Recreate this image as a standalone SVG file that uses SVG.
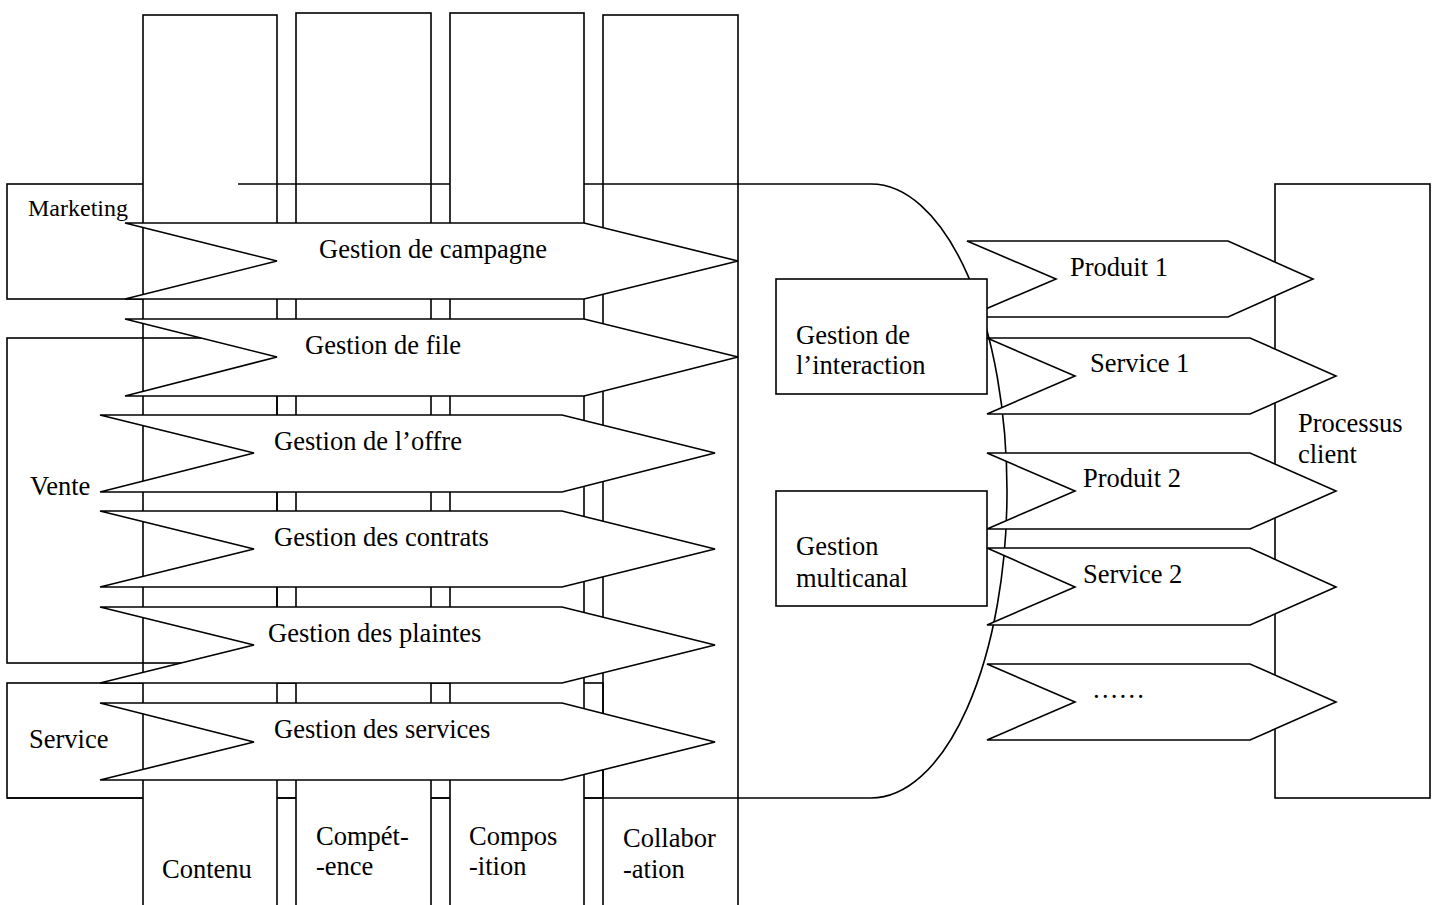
<svg xmlns="http://www.w3.org/2000/svg" width="1434" height="905" viewBox="0 0 1434 905">
<style>
.s{fill:none;stroke:#000;stroke-width:1.6}
.w{fill:#fff;stroke:#000;stroke-width:1.6}
text{font-family:"Liberation Serif","Times New Roman",serif;font-size:26.5px;fill:#000}
.sm{font-size:24px}
</style>
<rect width="1434" height="905" fill="#fff"/>
<g id="connectors">
<rect id="col4-bg" class="w" x="603" y="15" width="135" height="900"/>
<path class="s" d="M871 184 A136 307 0 0 1 871 798 H7"/>
</g>
<g id="marketing"><rect class="s" x="7" y="184" width="200" height="115"/></g>
<g id="service-box"><rect class="s" x="7" y="683" width="596" height="115"/></g>
<g id="col-contenu"><rect class="w" x="143" y="15" width="134" height="900"/><text x="162" y="878">Contenu</text></g>
<g id="col-competence"><rect class="w" x="296" y="13" width="135" height="900"/><text x="316" y="845">Compét-</text><text x="316" y="875">-ence</text></g>
<g id="topline"><path class="s" d="M238 184 H871"/></g>
<g id="col-composition"><rect class="w" x="450" y="13" width="134" height="900"/><text x="469" y="845">Compos</text><text x="469" y="875">-ition</text></g>
<g id="col-collaboration"><text x="623" y="847">Collabor</text><text x="623" y="878">-ation</text></g>
<g id="vente"><rect class="s" x="7" y="338" width="270" height="325"/></g>
<g id="labels-left"><text class="sm" x="28" y="216">Marketing</text><text x="30" y="495">Vente</text><text x="29" y="748">Service</text></g>
<g id="a-campagne"><polygon class="w" points="125,223 584,223 738,261 584,299 125,299 277,261"/><text x="319" y="258">Gestion de campagne</text></g>
<g id="a-file"><polygon class="w" points="125,319 584,319 738,357 584,396 125,396 277,357"/><text x="305" y="354">Gestion de file</text></g>
<g id="a-offre"><polygon class="w" points="100,415 562,415 715,453 562,492 100,492 254,453"/><text x="274" y="450">Gestion de l’offre</text></g>
<g id="a-contrats"><polygon class="w" points="100,511 562,511 715,549 562,587 100,587 254,549"/><text x="274" y="546">Gestion des contrats</text></g>
<g id="a-plaintes"><polygon class="w" points="100,607 562,607 715,645 562,683 100,683 254,645"/><text x="268" y="642">Gestion des plaintes</text></g>
<g id="a-services"><polygon class="w" points="100,703 562,703 715,742 562,780 100,780 254,742"/><text x="274" y="738">Gestion des services</text></g>
<g id="processus"><rect class="w" x="1275" y="184" width="155" height="614"/><text x="1298" y="432">Processus</text><text x="1298" y="463">client</text></g>
<g id="produit1"><polygon class="w" points="967,241 1228,241 1313,279 1228,317 967,317 1056,279"/><text x="1070" y="276">Produit 1</text></g>
<g id="interaction"><rect class="w" x="776" y="279" width="211" height="115"/><text x="796" y="344">Gestion de</text><text x="796" y="374">l’interaction</text></g>
<g id="service1"><polygon class="w" points="987,338 1250,338 1336,376 1250,414 987,414 1075,376"/><text x="1090" y="372">Service 1</text></g>
<g id="produit2"><polygon class="w" points="987,453 1250,453 1336,491 1250,529 987,529 1075,491"/><text x="1083" y="487">Produit 2</text></g>
<g id="service2"><polygon class="w" points="987,548 1250,548 1336,587 1250,625 987,625 1075,587"/><text x="1083" y="583">Service 2</text></g>
<g id="etc"><polygon class="w" points="987,664 1250,664 1336,702 1250,740 987,740 1075,702"/><text x="1092" y="698">……</text></g>
<g id="multicanal"><rect class="w" x="776" y="491" width="211" height="115"/><text x="796" y="555">Gestion</text><text x="796" y="587">multicanal</text></g>
</svg>
